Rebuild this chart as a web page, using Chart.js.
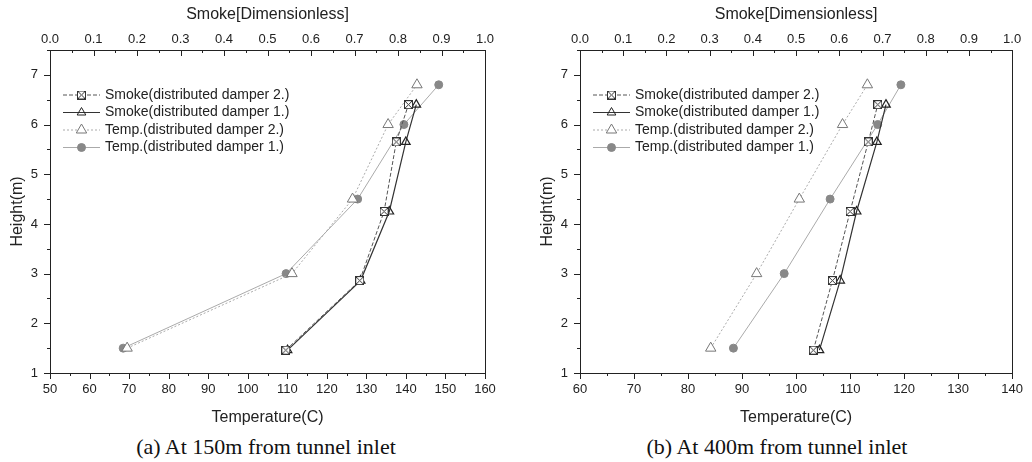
<!DOCTYPE html>
<html>
<head>
<meta charset="utf-8">
<script src="https://cdn.jsdelivr.net/npm/chart.js@4.4.1/dist/chart.umd.min.js"></script>
<style>
  body { margin: 0; background: #fff; }
  #wrap { position: relative; width: 1032px; height: 462px; overflow: hidden; }
  .panel { position: absolute; top: 0; width: 516px; height: 430px; }
  .caption {
    position: absolute; top: 434px; line-height: 26px;
    font-family: "Liberation Serif", "Times New Roman", serif; font-size: 22px;
    color: #111; white-space: nowrap; transform: translateX(-50%);
  }
</style>
</head>
<body>
<div id="wrap">
  <div class="panel" style="left:0"><canvas id="chart-a"></canvas></div>
  <div class="panel" style="left:516px"><canvas id="chart-b"></canvas></div>
  <div class="caption" style="left:266px">(a) At 150m from tunnel inlet</div>
  <div class="caption" style="left:777px">(b) At 400m from tunnel inlet</div>
</div>
<script>
// Heights (m) of the measuring points
const tempHeights = [1.5, 3.0, 4.5, 6.0, 6.8];
const smokeHeights = [1.46, 2.86, 4.25, 5.65, 6.4];

// (a) 150m from tunnel inlet
const tempA_damper2 = [69.5, 111.2, 126.5, 135.5, 142.8];
const tempA_damper1 = [68.5, 109.7, 127.8, 139.5, 148.3];
const smokeA_damper2 = [0.542, 0.712, 0.768, 0.796, 0.824];
const smokeA_damper1 = [0.546, 0.714, 0.780, 0.818, 0.842];

// (b) 400m from tunnel inlet
const tempB_damper2 = [84.2, 92.7, 100.6, 108.6, 113.2];
const tempB_damper1 = [88.4, 97.8, 106.3, 115.1, 119.4];
const smokeB_damper2 = [0.540, 0.584, 0.625, 0.667, 0.689];
const smokeB_damper1 = [0.554, 0.602, 0.640, 0.687, 0.708];

const seriesLabels = [
  'Smoke(distributed damper 2.)',
  'Smoke(distributed damper 1.)',
  'Temp.(distributed damper 2.)',
  'Temp.(distributed damper 1.)'
];

const tempRangeA = [50, 160];
const tempRangeB = [60, 140];
const smokeRange = [0, 1];
const heightRange = [1, 7.5];

const FONT = '"Liberation Sans", Arial, sans-serif';
Chart.defaults.font.family = FONT;
Chart.defaults.color = '#222';

function isMajor(v, step) {
  const r = v / step;
  return Math.abs(r - Math.round(r)) < 1e-6;
}

// square with a cross inside, used for the damper 2 smoke points
function makeCrossSquare() {
  const c = document.createElement('canvas');
  c.width = 9; c.height = 9;
  const g = c.getContext('2d');
  g.fillStyle = '#fff';
  g.fillRect(0, 0, 9, 9);
  g.strokeStyle = '#333';
  g.lineWidth = 1;
  g.strokeRect(0.5, 0.5, 8, 8);
  g.beginPath();
  g.moveTo(1, 1); g.lineTo(8, 8);
  g.moveTo(8, 1); g.lineTo(1, 8);
  g.stroke();
  return c;
}
const crossSquare = makeCrossSquare();

// frame around the plot plus major / minor tick marks
const axisFrame = {
  id: 'axisFrame',
  beforeDatasetsDraw(chart) {
    const { ctx, chartArea: a, scales } = chart;
    const px = v => Math.round(v) + 0.5;
    ctx.save();
    ctx.strokeStyle = '#222';
    ctx.lineWidth = 1;
    ctx.strokeRect(px(a.left), px(a.top), Math.round(a.right - a.left), Math.round(a.bottom - a.top));
    ctx.beginPath();
    // bottom axis, ticks outward
    scales.x.ticks.forEach(t => {
      const x = px(scales.x.getPixelForValue(t.value));
      const len = isMajor(t.value, 10) ? 6 : 3;
      ctx.moveTo(x, a.bottom); ctx.lineTo(x, a.bottom + len);
    });
    // top axis, ticks inward
    scales.x2.ticks.forEach(t => {
      const x = px(scales.x2.getPixelForValue(t.value));
      const len = isMajor(t.value, 0.1) ? 6 : 3;
      ctx.moveTo(x, a.top); ctx.lineTo(x, a.top + len);
    });
    // left axis, ticks outward
    scales.y.ticks.forEach(t => {
      const y = px(scales.y.getPixelForValue(t.value));
      const len = isMajor(t.value, 1) ? 6 : 3;
      ctx.moveTo(a.left, y); ctx.lineTo(a.left - len, y);
    });
    ctx.stroke();
    ctx.restore();
  }
};

// legend drawn inside the plot area, one entry per row
const innerLegend = {
  id: 'innerLegend',
  afterDatasetsDraw(chart) {
    const { ctx, chartArea: a } = chart;
    const x0 = a.left + 13;
    const y0 = a.top + 45;
    const rowH = 17.5;
    ctx.save();
    chart.data.datasets.forEach((ds, i) => {
      const y = y0 + i * rowH;
      ctx.strokeStyle = ds.borderColor;
      ctx.lineWidth = ds.borderWidth;
      ctx.setLineDash(ds.borderDash || []);
      ctx.beginPath();
      ctx.moveTo(x0, y); ctx.lineTo(x0 + 37, y);
      ctx.stroke();
      ctx.setLineDash([]);
      ctx.fillStyle = ds.pointBackgroundColor;
      ctx.strokeStyle = ds.pointBorderColor;
      ctx.lineWidth = 1;
      Chart.helpers.drawPoint(ctx, {
        pointStyle: ds.pointStyle, radius: ds.pointRadius, borderWidth: 1, rotation: 0
      }, x0 + 18.5, y);
      ctx.fillStyle = '#222';
      ctx.font = '14px ' + FONT;
      ctx.textAlign = 'left';
      ctx.textBaseline = 'middle';
      ctx.fillText(ds.label, x0 + 42, y);
    });
    ctx.restore();
  }
};

function pairs(xs, ys) {
  return xs.map((x, i) => ({ x: x, y: ys[i] }));
}

function makeChart(id, tempRange, tempD2, tempD1, smokeD2, smokeD1, padLeft, padRight) {
  const ctx = document.getElementById(id).getContext('2d');
  return new Chart(ctx, {
    type: 'line',
    data: {
      datasets: [
        {
          label: seriesLabels[0], xAxisID: 'x2', yAxisID: 'y',
          data: pairs(smokeD2, smokeHeights),
          borderColor: '#555', borderWidth: 1, borderDash: [4, 2],
          pointStyle: crossSquare, pointRadius: 4.5,
          pointBackgroundColor: '#fff', pointBorderColor: '#333'
        },
        {
          label: seriesLabels[1], xAxisID: 'x2', yAxisID: 'y',
          data: pairs(smokeD1, smokeHeights),
          borderColor: '#333', borderWidth: 1.2,
          pointStyle: 'triangle', pointRadius: 5, pointBorderWidth: 1.2,
          pointBackgroundColor: 'rgba(0,0,0,0)', pointBorderColor: '#222'
        },
        {
          label: seriesLabels[2], xAxisID: 'x', yAxisID: 'y',
          data: pairs(tempD2, tempHeights),
          borderColor: '#aaa', borderWidth: 1, borderDash: [2, 2],
          pointStyle: 'triangle', pointRadius: 6, pointBorderWidth: 1,
          pointBackgroundColor: '#fff', pointBorderColor: '#777'
        },
        {
          label: seriesLabels[3], xAxisID: 'x', yAxisID: 'y',
          data: pairs(tempD1, tempHeights),
          borderColor: '#aaa', borderWidth: 1,
          pointStyle: 'circle', pointRadius: 4, pointBorderWidth: 1,
          pointBackgroundColor: '#888', pointBorderColor: '#888'
        }
      ]
    },
    options: {
      responsive: true,
      maintainAspectRatio: false,
      animation: false,
      layout: { padding: { left: padLeft, right: padRight, top: 0, bottom: 0 } },
      elements: { line: { tension: 0 } },
      plugins: { legend: { display: false }, tooltip: { enabled: false } },
      scales: {
        x: {
          type: 'linear', position: 'bottom',
          min: tempRange[0], max: tempRange[1],
          grid: { display: false, drawTicks: false }, border: { display: false },
          ticks: {
            stepSize: 5, autoSkip: false, maxRotation: 0, padding: 9,
            font: { size: 13 }, color: '#222',
            callback: v => isMajor(v, 10) ? String(v) : ''
          },
          title: {
            display: true, text: 'Temperature(C)', color: '#222',
            font: { size: 16 }, padding: { top: 0, bottom: 3 }
          },
          afterFit: s => { s.height = 57; }
        },
        x2: {
          type: 'linear', position: 'top',
          min: smokeRange[0], max: smokeRange[1],
          grid: { display: false, drawTicks: false }, border: { display: false },
          ticks: {
            stepSize: 0.05, autoSkip: false, maxRotation: 0, padding: 3,
            font: { size: 13 }, color: '#222',
            callback: v => isMajor(v, 0.1) ? v.toFixed(1) : ''
          },
          title: {
            display: true, text: 'Smoke[Dimensionless]', color: '#222',
            font: { size: 16 }, padding: { top: 5, bottom: 0 }
          },
          afterFit: s => { s.height = 50; }
        },
        y: {
          type: 'linear', position: 'left',
          min: heightRange[0], max: heightRange[1],
          grid: { display: false, drawTicks: false }, border: { display: false },
          ticks: {
            stepSize: 0.5, autoSkip: false, padding: 12,
            font: { size: 13 }, color: '#222',
            callback: v => isMajor(v, 1) ? String(v) : ''
          },
          title: {
            display: true, text: 'Height(m)', color: '#222',
            font: { size: 16 }, padding: { top: 8, bottom: 0 }
          },
          afterFit: s => { s.width = 50; }
        }
      }
    },
    plugins: [axisFrame, innerLegend]
  });
}

makeChart('chart-a', tempRangeA, tempA_damper2, tempA_damper1, smokeA_damper2, smokeA_damper1, 0, 31);
makeChart('chart-b', tempRangeB, tempB_damper2, tempB_damper1, smokeB_damper2, smokeB_damper1, 14, 14);
</script>
</body>
</html>
